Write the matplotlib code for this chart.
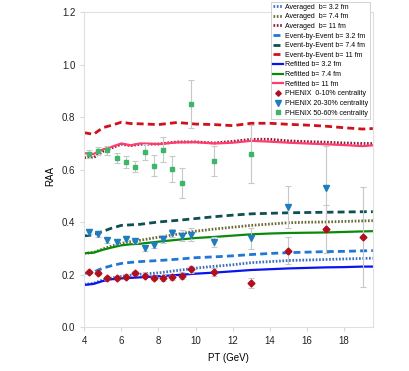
import matplotlib.pyplot as plt
import numpy as np

plt.rcParams['font.family'] = ['Liberation Sans', 'DejaVu Sans']

# model curves (pT grid)
pt = [4, 4.5, 5, 5.5, 6, 6.5, 7, 8, 9, 10, 11, 12, 13, 14, 15, 16, 17, 18, 19, 19.55]

avg_32 = [0.163, 0.167, 0.180, 0.188, 0.194, 0.198, 0.202, 0.207, 0.216, 0.225, 0.232, 0.238, 0.246, 0.250, 0.254, 0.256, 0.258, 0.260, 0.262, 0.263]
avg_74 = [0.281, 0.285, 0.298, 0.310, 0.319, 0.326, 0.331, 0.343, 0.354, 0.366, 0.374, 0.381, 0.388, 0.393, 0.398, 0.400, 0.401, 0.403, 0.405, 0.406]
avg_11 = [0.646, 0.646, 0.670, 0.684, 0.697, 0.692, 0.697, 0.698, 0.706, 0.706, 0.702, 0.708, 0.716, 0.716, 0.710, 0.707, 0.705, 0.702, 0.700, 0.700]
ebe_32 = [0.205, 0.210, 0.225, 0.235, 0.243, 0.247, 0.250, 0.254, 0.259, 0.265, 0.268, 0.272, 0.277, 0.281, 0.284, 0.286, 0.288, 0.289, 0.291, 0.292]
ebe_74 = [0.348, 0.352, 0.365, 0.378, 0.388, 0.390, 0.392, 0.401, 0.407, 0.414, 0.421, 0.427, 0.432, 0.434, 0.436, 0.437, 0.438, 0.439, 0.440, 0.440]
ebe_11 = [0.741, 0.735, 0.760, 0.770, 0.781, 0.776, 0.775, 0.772, 0.780, 0.774, 0.772, 0.768, 0.777, 0.777, 0.773, 0.770, 0.766, 0.760, 0.755, 0.757]
ref_32 = [0.161, 0.165, 0.176, 0.183, 0.186, 0.188, 0.190, 0.194, 0.199, 0.204, 0.208, 0.213, 0.218, 0.221, 0.224, 0.226, 0.228, 0.229, 0.231, 0.231]
ref_74 = [0.282, 0.284, 0.295, 0.304, 0.312, 0.316, 0.318, 0.326, 0.333, 0.340, 0.344, 0.349, 0.354, 0.357, 0.359, 0.360, 0.361, 0.363, 0.365, 0.366]
ref_11 = [0.663, 0.660, 0.677, 0.688, 0.700, 0.693, 0.700, 0.698, 0.704, 0.705, 0.700, 0.703, 0.710, 0.707, 0.703, 0.700, 0.697, 0.694, 0.690, 0.693]

# PHENIX data
pt_0_10 = [4.25, 4.75, 5.25, 5.75, 6.25, 6.75, 7.25, 7.75, 8.25, 8.75, 9.25, 9.75, 11, 13, 15, 17, 19]
raa_0_10 = [0.211, 0.206, 0.187, 0.188, 0.193, 0.207, 0.197, 0.188, 0.188, 0.190, 0.197, 0.221, 0.211, 0.168, 0.292, 0.374, 0.345]
err_0_10 = [0.008, 0.008, 0.008, 0.008, 0.008, 0.009, 0.009, 0.009, 0.010, 0.010, 0.012, 0.014, 0.015, 0.020, 0.050, 0.090, 0.190]

pt_20_30 = [4.25, 4.75, 5.25, 5.75, 6.25, 6.75, 7.25, 7.75, 8.25, 8.75, 9.25, 9.75, 11, 13, 15, 17]
raa_20_30 = [0.364, 0.355, 0.331, 0.326, 0.338, 0.330, 0.303, 0.313, 0.336, 0.360, 0.349, 0.353, 0.325, 0.339, 0.459, 0.532]
err_20_30 = [0.010, 0.010, 0.010, 0.010, 0.011, 0.011, 0.012, 0.012, 0.014, 0.016, 0.020, 0.025, 0.020, 0.040, 0.080, 0.160]

pt_50_60 = [4.25, 4.75, 5.25, 5.75, 6.25, 6.75, 7.25, 7.75, 8.25, 8.75, 9.25, 9.75, 11, 13]
raa_50_60 = [0.660, 0.672, 0.674, 0.645, 0.630, 0.612, 0.667, 0.616, 0.677, 0.603, 0.551, 0.850, 0.635, 0.659]
err_50_60 = [0.015, 0.015, 0.018, 0.020, 0.022, 0.022, 0.030, 0.040, 0.048, 0.050, 0.057, 0.090, 0.057, 0.110]

fig = plt.figure(figsize=(4.09, 3.71), dpi=100)
ax = fig.add_axes([0.206, 0.118, 0.707, 0.849])

dot = (0, (0.6, 0.6))
dash = (0, (2.5, 1.5))
ax.plot(pt, avg_32, color='#3a6fc4', lw=2, ls=dot, label='Averaged  b= 3.2 fm')
ax.plot(pt, avg_74, color='#6b6b35', lw=2, ls=dot, label='Averaged  b= 7.4 fm')
ax.plot(pt, avg_11, color='#8b1a3a', lw=2, ls=dot, label='Averaged  b= 11 fm')
ax.plot(pt, ebe_32, color='#1f78d6', lw=2, ls=dash, label='Event-by-Event b= 3.2 fm')
ax.plot(pt, ebe_74, color='#0d4f52', lw=2, ls=dash, label='Event-by-Event b= 7.4 fm')
ax.plot(pt, ebe_11, color='#d0101a', lw=2, ls=dash, label='Event-by-Event b= 11 fm')
ax.plot(pt, ref_32, color='#0a14f0', lw=1.6, label='Refitted b= 3.2 fm')
ax.plot(pt, ref_74, color='#0a8a0a', lw=1.6, label='Refitted b= 7.4 fm')
ax.plot(pt, ref_11, color='#ff3d6e', lw=1.6, label='Refitted b= 11 fm')

# error bars first, markers on top (markers carry the legend entries)
ekw = dict(ls='none', ecolor='#c8c8c8', elinewidth=0.8, capsize=2, capthick=0.8)
ax.errorbar(pt_0_10, raa_0_10, yerr=err_0_10, **ekw)
ax.errorbar(pt_20_30, raa_20_30, yerr=err_20_30, **ekw)
ax.errorbar(pt_50_60, raa_50_60, yerr=err_50_60, **ekw)
ax.plot(pt_0_10, raa_0_10, ls='none', marker='D', ms=3.5, color='#b0101e', label='PHENIX  0-10% centrality')
ax.plot(pt_20_30, raa_20_30, ls='none', marker='v', ms=5, color='#1c7dbf', label='PHENIX 20-30% centrality')
ax.plot(pt_50_60, raa_50_60, ls='none', marker='s', ms=3.5, color='#3cb768', label='PHENIX 50-60% centrality')

ax.set_xlim(4, 19.58)
ax.set_ylim(0, 1.2)
ax.set_xticks([4, 6, 8, 10, 12, 14, 16, 18])
ax.set_yticks(np.arange(0, 1.21, 0.2))
ax.set_yticklabels([f'{v:.1f}' for v in np.arange(0, 1.21, 0.2)])
ax.tick_params(labelsize=7, length=3, width=0.8, colors='#222222')
ax.tick_params(color='#d9d9d9')
for s in ax.spines.values():
    s.set_color('#e0e0e0')
    s.set_linewidth(0.8)

ax.set_xlabel('PT (GeV)', fontsize=7, labelpad=5)
ax.set_ylabel('RAA', fontsize=7, labelpad=1)
ax.yaxis.set_label_coords(-0.1, 0.48)

leg = ax.legend(loc='upper right', bbox_to_anchor=(1.0, 1.045), fontsize=5, frameon=True,
                fancybox=False, framealpha=1, edgecolor='#cccccc', handlelength=1.4,
                handletextpad=0.3, labelspacing=0.38, borderpad=0.3, numpoints=1,
                markerscale=0.8)
leg.get_frame().set_linewidth(0.6)

fig.savefig('out.png', dpi=100)
